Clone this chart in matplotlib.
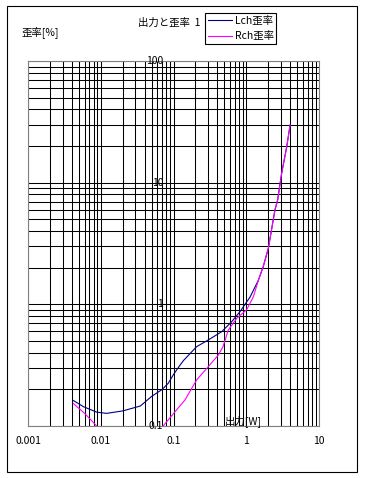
import numpy as np
import matplotlib
matplotlib.use("Agg")
import matplotlib.pyplot as plt
from matplotlib.ticker import LogLocator, NullFormatter, FixedLocator, FixedFormatter
from matplotlib.patches import Rectangle

plt.rcParams['font.family'] = ['Noto Sans CJK JP', 'DejaVu Sans']

# 出力 [W] と 歪率 [%]
lch_w = [0.0042, 0.0058, 0.0088, 0.012, 0.02, 0.035, 0.05, 0.07, 0.085, 0.1, 0.12, 0.137,
         0.208, 0.3, 0.46, 0.63, 0.82, 1.13, 1.47, 1.71, 2.01, 2.48, 2.7, 3.07, 3.6, 4.0]
lch_thd = [0.162, 0.144, 0.130, 0.127, 0.133, 0.146, 0.175, 0.2, 0.225, 0.265, 0.31, 0.345,
           0.449, 0.509, 0.596, 0.72, 0.87, 1.15, 1.58, 2.04, 2.88, 5.96, 7.2, 12.0, 19.7, 29.7]

rch_w = [0.0042, 0.006, 0.0088, np.nan, 0.072, 0.105, 0.144, 0.208, 0.3, 0.413, 0.48,
         0.566, 0.74, 1.01, 1.25, 1.47, 1.71, 2.01, 2.48, 2.7, 3.07, 3.6, 4.0]
rch_thd = [0.153, 0.127, 0.100, np.nan, 0.100, 0.131, 0.164, 0.239, 0.307, 0.383, 0.45,
           0.615, 0.767, 0.9, 1.15, 1.58, 2.04, 2.88, 5.96, 7.2, 12.0, 19.7, 29.7]

x_ticks = [0.001, 0.01, 0.1, 1, 10]
x_labels = ['0.001', '0.01', '0.1', '1', '10']
y_ticks = [0.1, 1, 10, 100]
y_labels = ['0.1', '1', '10', '100']

W, H = 365, 478
fig = plt.figure(figsize=(W / 100, H / 100), dpi=100)
fig.patch.set_facecolor('white')

# outer frame
fig.patches.append(Rectangle((7 / W, 1 - 472 / H), 350 / W, 466 / H,
                             transform=fig.transFigure, fill=False,
                             edgecolor='black', lw=0.8))

ax = fig.add_axes([28 / W, 52 / H, 291 / W, 365 / H])
ax.set_xscale('log')
ax.set_yscale('log')
ax.set_xlim(0.001, 10)
ax.set_ylim(0.1, 100)

ax.xaxis.set_major_locator(FixedLocator(x_ticks))
ax.xaxis.set_major_formatter(FixedFormatter(x_labels))
ax.xaxis.set_minor_locator(LogLocator(base=10, subs=np.arange(2, 10)))
ax.xaxis.set_minor_formatter(NullFormatter())
ax.yaxis.set_major_locator(FixedLocator(y_ticks))
ax.yaxis.set_minor_locator(LogLocator(base=10, subs=np.arange(2, 10)))
ax.yaxis.set_major_formatter(NullFormatter())
ax.yaxis.set_minor_formatter(NullFormatter())
ax.tick_params(which='both', length=0)
ax.tick_params(axis='x', pad=7.5, labelsize=7.5)
ax.grid(True, which='both', color='black', lw=0.75)
for s in ax.spines.values():
    s.set_color('#808080')
    s.set_linewidth(0.8)

# y labels sit inside the plot, left of the 0.1 W line
for v, t in zip(y_ticks, y_labels):
    ax.text(0.072, v, t, ha='right', va='center', fontsize=7.5, clip_on=False)

l1, = ax.plot(lch_w, lch_thd, color='#000080', lw=0.8, label='Lch歪率')
l2, = ax.plot(rch_w, rch_thd, color='#ff00ff', lw=0.8, label='Rch歪率')

fig.text(243 / W, 1 - 421 / H, '出力[W]', ha='center', va='center', fontsize=7.5)
fig.text(22 / W, 1 - 32 / H, '歪率[%]', ha='left', va='center', fontsize=7.5)
fig.text(138 / W, 1 - 23 / H, '出力と歪率  1', ha='left', va='center', fontsize=7.5)

leg = fig.legend(handles=[l1, l2], loc='upper left',
                 bbox_to_anchor=(205 / W, 1 - 13 / H), fontsize=7.5,
                 fancybox=False, edgecolor='black', framealpha=1,
                 handlelength=2.3, handletextpad=0.3, borderpad=0.25,
                 labelspacing=0.55, borderaxespad=0)
leg.get_frame().set_linewidth(0.8)

fig.savefig('out.png', dpi=100)
